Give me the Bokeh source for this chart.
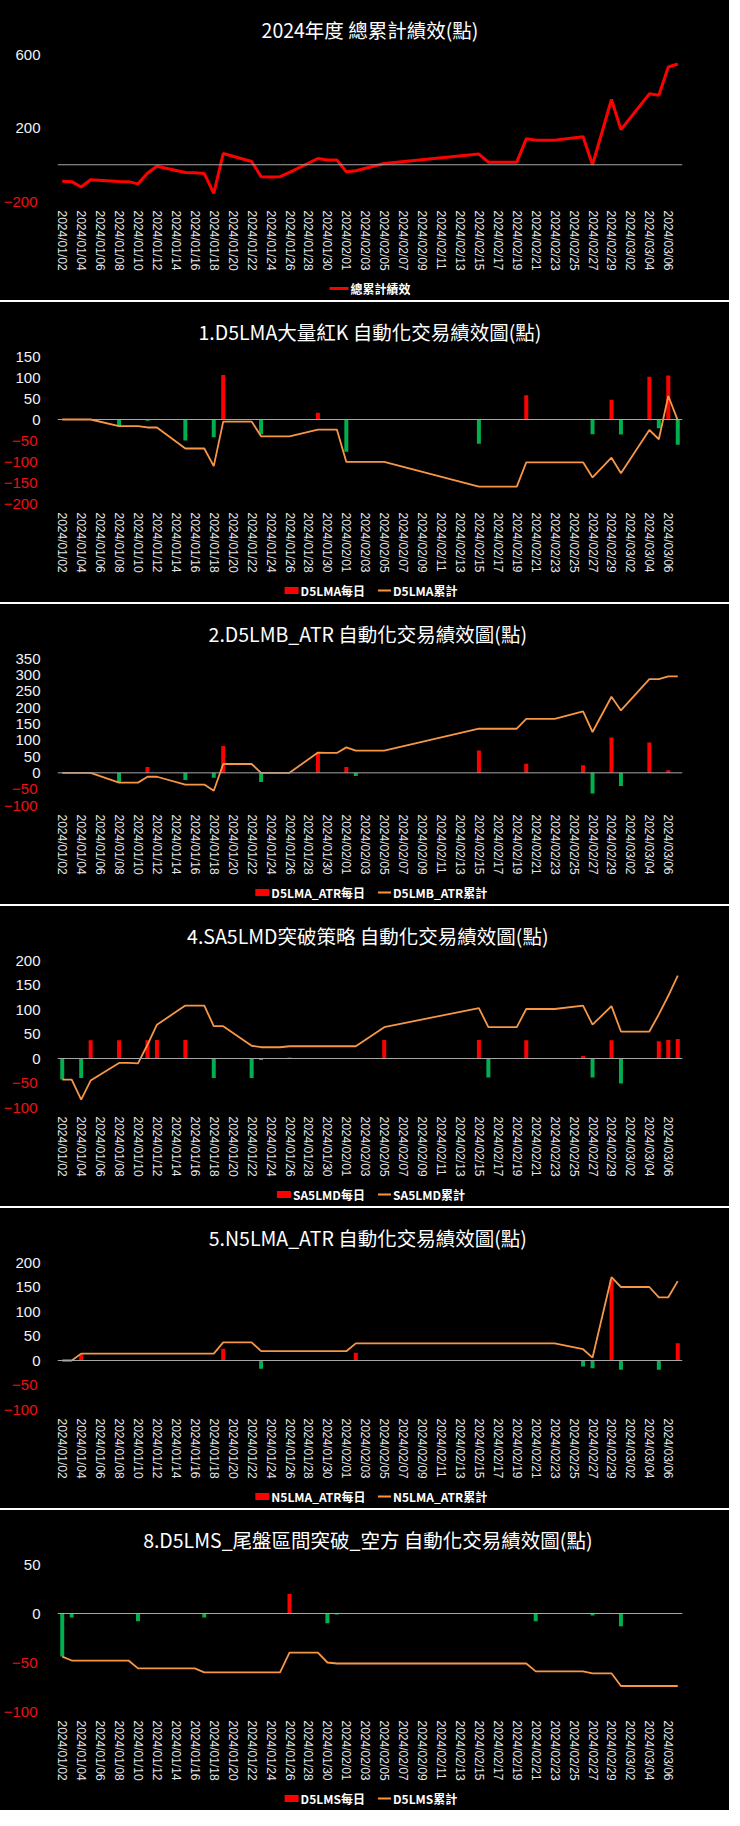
import math
import pandas as pd
from bokeh.plotting import figure
from bokeh.models import (ColumnDataSource, Range1d, FixedTicker, Span, LinearAxis,
                          DatetimeTickFormatter)
from bokeh.core.properties import value
from bokeh.layouts import column
from bokeh.embed import file_html
from bokeh.resources import INLINE

# ---------------- data ----------------
dates = ["2024/01/02", "2024/01/03", "2024/01/04", "2024/01/05", "2024/01/08", "2024/01/09",
         "2024/01/10", "2024/01/11", "2024/01/12", "2024/01/15", "2024/01/16", "2024/01/17",
         "2024/01/18", "2024/01/19", "2024/01/22", "2024/01/23", "2024/01/24", "2024/01/25",
         "2024/01/26", "2024/01/29", "2024/01/30", "2024/01/31", "2024/02/01", "2024/02/02",
         "2024/02/05", "2024/02/15", "2024/02/16", "2024/02/19", "2024/02/20", "2024/02/21",
         "2024/02/22", "2024/02/23", "2024/02/26", "2024/02/27", "2024/02/29", "2024/03/01",
         "2024/03/04", "2024/03/05", "2024/03/06", "2024/03/07"]

tick_labels = ["2024/01/02", "2024/01/04", "2024/01/06", "2024/01/08", "2024/01/10", "2024/01/12",
               "2024/01/14", "2024/01/16", "2024/01/18", "2024/01/20", "2024/01/22", "2024/01/24",
               "2024/01/26", "2024/01/28", "2024/01/30", "2024/02/01", "2024/02/03", "2024/02/05",
               "2024/02/07", "2024/02/09", "2024/02/11", "2024/02/13", "2024/02/15", "2024/02/17",
               "2024/02/19", "2024/02/21", "2024/02/23", "2024/02/25", "2024/02/27", "2024/02/29",
               "2024/03/02", "2024/03/04", "2024/03/06"]

total_cum = [-90, -92, -121, -82, -91, -92, -104, -46, -8, -42, -44, -47, -156, 61, 18, -65, -67,
             -65, -42, 34, 26, 26, -38, -33, 7, 58, 14, 14, 141, 134, 134, 134, 152, 0, 355, 191,
             386, 378, 532, 548]

d5lma_daily = [0, 0, 0, 0, -16, 0, 0, -3, 0, -50, 0, 0, -42, 106, 0, -35, 0, 0, 0, 16, 0, 0, -77,
               0, 0, -58, 0, 0, 58, 0, 0, 0, 0, -35, 47, -36, 102, -21, 105, -60]
d5lma_cum = [0, 0, 0, 0, -16, -16, -16, -19, -19, -69, -69, -69, -111, -5, -5, -40, -40, -40, -40,
             -24, -24, -24, -101, -101, -101, -160, -160, -160, -102, -102, -102, -102, -102, -138,
             -91, -128, -25, -47, 56, -2]

d5lmb_daily = [0, 0, 0, 0, -28, 0, 0, 18, 0, -22, 0, 0, -15, 82, 0, -28, 0, 0, 0, 60, 0, 0, 18,
               -10, 0, 68, 0, 0, 28, 0, 0, 0, 23, -63, 108, -40, 93, 0, 8, 0]
d5lmb_cum = [0, 0, 0, 0, -30, -30, -30, -12, -12, -36, -36, -36, -55, 27, 27, 0, 0, 0, 0, 62, 61,
             61, 78, 68, 68, 135, 135, 135, 165, 165, 165, 165, 188, 125, 233, 191, 287, 287, 295,
             295]

sa5lmd_daily = [-43, 0, -40, 37, 37, 0, 0, 37, 38, 38, 0, 0, -40, 0, -40, -3, 0, 0, 2, 0, 0, 0, 0,
                0, 38, 38, -39, 0, 37, 0, 0, 0, 5, -39, 37, -51, 0, 35, 38, 40]
sa5lmd_cum = [-43, -43, -84, -45, -9, -9, -10, 28, 69, 108, 108, 108, 66, 66, 26, 23, 23, 23, 25,
              25, 25, 25, 25, 25, 64, 103, 64, 64, 101, 101, 101, 101, 108, 69, 107, 55, 55, 90,
              128, 169]

n5lma_daily = [0, 0, 13, 0, 0, 0, 0, 0, 0, 0, 0, 0, 0, 24, 0, -17, 0, 0, 0, 0, 0, 0, 0, 16, 0, 0,
               0, 0, 0, 0, 0, 0, -12, -16, 165, -19, 0, -19, 0, 35]
n5lma_cum = [0, 0, 14, 14, 14, 14, 14, 14, 14, 14, 14, 14, 14, 37, 37, 19, 19, 19, 19, 19, 19, 19,
             19, 35, 35, 35, 35, 35, 35, 35, 35, 35, 23, 6, 170, 150, 150, 129, 129, 162]

d5lms_daily = [-44, -4, 0, 0, 0, 0, -8, 0, 0, 0, 0, -4, 0, 0, 0, 0, 0, 0, 20, 0, -10, -1, 0, 0, 0,
               0, 0, 0, 0, -8, 0, 0, 0, -2, 0, -13, 0, 0, 0, 0]
d5lms_cum = [-44, -48, -48, -48, -48, -48, -56, -56, -56, -56, -56, -60, -60, -60, -60, -60, -60,
             -60, -40, -40, -50, -51, -51, -51, -51, -51, -51, -51, -51, -59, -59, -59, -59, -61,
             -61, -74, -74, -74, -74, -74]

# ---------------- styling ----------------
RED = "#FF0000"
GREEN = "#00B050"
ORANGE = "#F79646"
BG = "#000000"
DAY_MS = 86400000
FIG_W = 724
MAIN_H = 276
LEG_H = 24
FRAME_L, FRAME_W = 52, 625
FRAME_R = FIG_W - FRAME_L - FRAME_W
Y_FONT_PX = 15
Y_STANDOFF = 17
LEG_FONT_PX = 12

x_dt = pd.to_datetime(dates, format="%Y/%m/%d")
tick_dt = pd.to_datetime(tick_labels, format="%Y/%m/%d")
tick_ms = [int(t.value // 10**6) for t in tick_dt]
x_start = x_dt[0] - pd.Timedelta(hours=12)
x_end = x_dt[-1] + pd.Timedelta(hours=12)


def style_y_axis(ax, color, standoff):
    ax.major_label_text_color = color
    ax.major_label_text_font = "Liberation Sans"
    ax.major_label_text_font_size = f"{Y_FONT_PX}px"
    ax.major_label_standoff = standoff
    ax.axis_line_color = None
    ax.major_tick_line_color = None
    ax.minor_tick_line_color = None
    ax.major_tick_out = 0
    ax.minor_tick_out = 0
    ax.major_tick_in = 0
    ax.minor_tick_in = 0


def est_text_w(s):
    # rough advance widths (px) of the bold 12px legend font
    w = 0.0
    for ch in s:
        if ord(ch) > 0x2E80:
            w += LEG_FONT_PX
        elif ch == "_":
            w += 0.52 * LEG_FONT_PX
        else:
            w += 0.64 * LEG_FONT_PX
    return w


def legend_strip(entries):
    """entries: list of (kind, label, color, width) -> a thin figure holding the legend."""
    lf = figure(frame_width=FRAME_W, frame_height=LEG_H,
                x_range=Range1d(0, FRAME_W), y_range=Range1d(0, LEG_H),
                output_backend="svg", toolbar_location=None,
                x_axis_location=None, y_axis_location=None,
                background_fill_color=BG, border_fill_color=BG, outline_line_color=None,
                min_border_left=FRAME_L, min_border_right=FRAME_R,
                min_border_top=0, min_border_bottom=0)
    lf.grid.visible = False
    stand, gap = 2, 15
    sizes = []
    for kind, lab, _, _ in entries:
        s = 14 if kind == "bar" else (19 if len(entries) == 1 else 13)
        sizes.append(s)
    widths = [s + stand + est_text_w(lab) for s, (_, lab, _, _) in zip(sizes, entries)]
    total = sum(widths) + gap * (len(entries) - 1)
    x = FRAME_W / 2.0 - total / 2.0
    yc = LEG_H / 2.0
    for (kind, lab, color, lw), s, w in zip(entries, sizes, widths):
        if kind == "bar":
            lf.rect(x=[x + s / 2.0], y=[yc], width=s, height=7, fill_color=color, line_color=None)
        else:
            lf.segment(x0=[x], y0=[yc], x1=[x + s], y1=[yc], line_color=color, line_width=lw)
        lf.text(x=[x + s + stand], y=[yc], text=[lab], text_color="#ffffff",
                text_font=value("Noto Sans CJK TC"), text_font_size=value(f"{LEG_FONT_PX}px"),
                text_font_style="bold", text_align="left", text_baseline="middle")
        x += w + gap
    return lf


def make_panel(title, ymin, ymax, step, cum, line_label, line_color, line_width,
               daily=None, bar_label=None):
    p = figure(frame_width=FRAME_W, frame_height=147, x_axis_type="datetime",
               x_range=Range1d(start=x_start.to_pydatetime(), end=x_end.to_pydatetime()),
               y_range=Range1d(start=ymin, end=ymax),
               output_backend="svg", toolbar_location=None,
               background_fill_color=BG, border_fill_color=BG, outline_line_color=None,
               min_border_left=FRAME_L, min_border_right=FRAME_R,
               min_border_top=54, min_border_bottom=MAIN_H - 54 - 147)
    p.title.text = title
    p.title.align = "center"
    p.title.text_color = "#ffffff"
    p.title.text_font = "Noto Sans CJK TC"
    p.title.text_font_size = "19.5px"
    p.title.text_font_style = "normal"
    p.title.standoff = 21
    p.grid.visible = False

    p.add_layout(Span(location=0, dimension="width", line_color="#a6a6a6", line_width=1))

    src = ColumnDataSource(dict(x=x_dt, cum=cum))
    if daily is not None:
        src.data["daily"] = daily
        src.data["color"] = [RED if v > 0 else GREEN for v in daily]
        p.vbar(x="x", top="daily", bottom=0, width=0.42 * DAY_MS, fill_color="color",
               line_color=None, source=src)
    p.line(x="x", y="cum", line_color=line_color, line_width=line_width, source=src)

    # x axis
    xa = p.xaxis[0]
    xa.ticker = FixedTicker(ticks=tick_ms)
    fmt = "%Y/%m/%d"
    xa.formatter = DatetimeTickFormatter(days=fmt, months=fmt, years=fmt, hours=fmt,
                                         hourmin=fmt, minutes=fmt, minsec=fmt, seconds=fmt,
                                         milliseconds=fmt, microseconds=fmt)
    xa.major_label_orientation = -math.pi / 2
    xa.major_label_text_color = "#e6e6e6"
    xa.major_label_text_font = "Liberation Sans"
    xa.major_label_text_font_size = "12px"
    xa.major_label_standoff = 9
    xa.axis_line_color = None
    xa.major_tick_line_color = None
    xa.minor_tick_line_color = None
    xa.major_tick_out = 0
    xa.minor_tick_out = 0

    # y axes: inner one for the non-negative ticks (white), outer one for negatives (red)
    ticks = list(range(ymin, ymax + 1, step))
    pos_ticks = [t for t in ticks if t >= 0]
    neg_ticks = [t for t in ticks if t < 0]
    ya = p.yaxis[0]
    ya.ticker = FixedTicker(ticks=pos_ticks)
    style_y_axis(ya, "#f2f2f2", Y_STANDOFF)
    inner_w = round(max(len(str(t)) for t in pos_ticks) * 0.556 * Y_FONT_PX)
    ya2 = LinearAxis(ticker=FixedTicker(ticks=neg_ticks))
    style_y_axis(ya2, "#ee1111", -inner_w)
    p.add_layout(ya2, "left")

    entries = []
    if daily is not None:
        entries.append(("bar", bar_label, RED, 0))
    entries.append(("line", line_label, line_color, line_width))
    return column(p, legend_strip(entries), spacing=0, styles={"background-color": BG})


panels = [
    make_panel("2024年度 總累計績效(點)", -200, 600, 400, total_cum, "總累計績效", RED, 3),
    make_panel("1.D5LMA大量紅K 自動化交易績效圖(點)", -200, 150, 50, d5lma_cum, "D5LMA累計",
               ORANGE, 1.8, d5lma_daily, "D5LMA每日"),
    make_panel("2.D5LMB_ATR  自動化交易績效圖(點)", -100, 350, 50, d5lmb_cum, "D5LMB_ATR累計",
               ORANGE, 1.8, d5lmb_daily, "D5LMA_ATR每日"),
    make_panel("4.SA5LMD突破策略  自動化交易績效圖(點)", -100, 200, 50, sa5lmd_cum, "SA5LMD累計",
               ORANGE, 1.8, sa5lmd_daily, "SA5LMD每日"),
    make_panel("5.N5LMA_ATR  自動化交易績效圖(點)", -100, 200, 50, n5lma_cum, "N5LMA_ATR累計",
               ORANGE, 1.8, n5lma_daily, "N5LMA_ATR每日"),
    make_panel("8.D5LMS_尾盤區間突破_空方  自動化交易績效圖(點)", -100, 50, 50, d5lms_cum,
               "D5LMS累計", ORANGE, 1.8, d5lms_daily, "D5LMS每日"),
]

p = column(*panels, spacing=2)
open("out.html", "w").write(file_html(p, INLINE))
